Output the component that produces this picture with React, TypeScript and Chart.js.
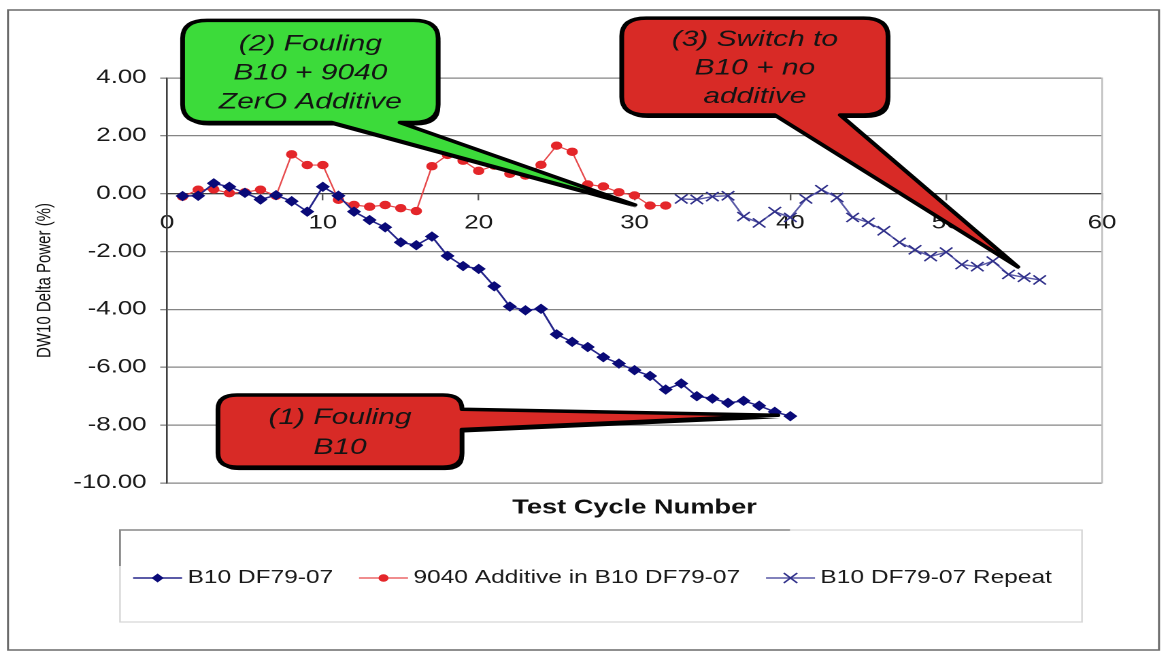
import React, { useEffect, useRef } from 'react';
import { Chart, registerables } from 'chart.js';

Chart.register(...registerables);

// ---------- page geometry (the reference is horizontally stretched) ----------
const FRAME_W = 1170;
const FRAME_H = 658;
const LOGICAL_W = 860;
const STRETCH = FRAME_W / LOGICAL_W;
const FONT = '"Liberation Sans", Arial, Helvetica, sans-serif';

// ---------- data ----------
const seriesNames = ['B10 DF79-07', '9040 Additive in B10 DF79-07', 'B10 DF79-07 Repeat'];

const cyclesB10 = [
  1, 2, 3, 4, 5, 6, 7, 8, 9, 10, 11, 12, 13, 14, 15, 16, 17, 18, 19, 20,
  21, 22, 23, 24, 25, 26, 27, 28, 29, 30, 31, 32, 33, 34, 35, 36, 37, 38, 39, 40,
];
const deltaB10 = [
  -0.08, -0.07, 0.36, 0.24, 0.03, -0.2, -0.05, -0.26, -0.62, 0.24,
  -0.07, -0.62, -0.91, -1.16, -1.68, -1.78, -1.48, -2.15, -2.5, -2.6,
  -3.2, -3.9, -4.03, -3.98, -4.86, -5.12, -5.3, -5.65, -5.87, -6.1,
  -6.3, -6.77, -6.56, -7.0, -7.08, -7.23, -7.16, -7.33, -7.54, -7.69,
];

const cyclesAdditive = [
  1, 2, 3, 4, 5, 6, 7, 8, 9, 10, 11, 12, 13, 14, 15, 16,
  17, 18, 19, 20, 21, 22, 23, 24, 25, 26, 27, 28, 29, 30, 31, 32,
];
const deltaAdditive = [
  -0.1, 0.14, 0.15, 0.02, 0.05, 0.14, -0.07, 1.36, 0.99, 0.99, -0.21, -0.39, -0.45, -0.39, -0.5, -0.6,
  0.95, 1.34, 1.14, 0.79, 0.97, 0.69, 0.63, 1.0, 1.66, 1.45, 0.32, 0.25, 0.05, -0.06, -0.41, -0.41,
];

const cyclesRepeat = [
  33, 34, 35, 36, 37, 38, 39, 40, 41, 42, 43, 44,
  45, 46, 47, 48, 49, 50, 51, 52, 53, 54, 55, 56,
];
const deltaRepeat = [
  -0.18, -0.2, -0.1, -0.07, -0.79, -1.01, -0.62, -0.82, -0.18, 0.14, -0.13, -0.82,
  -0.99, -1.28, -1.68, -1.94, -2.17, -2.02, -2.45, -2.52, -2.33, -2.79, -2.89, -2.98,
];

const X_MIN = 0;
const X_MAX = 60;
const X_STEP = 10;
const Y_MIN = -10;
const Y_MAX = 4;
const Y_STEP = 2;

const xTitle = 'Test Cycle Number';
const yTitle = 'DW10 Delta Power (%)';

// callout annotations (anchored in data units)
const callouts = [
  {
    lines: ['(1) Fouling', 'B10'],
    fill: '#d82a26',
    box: { x1: 3.27, x2: 18.93, y1: -6.96, y2: -9.45 },
    radius: 14,
    edge: 'right',
    base: [-7.45, -8.15],
    tip: { x: 39.2, y: -7.66 },
    gap: 30,
  },
  {
    lines: ['(2) Fouling', 'B10 + 9040', 'ZerO Additive'],
    fill: '#3cdb3a',
    box: { x1: 1.0, x2: 17.4, y1: 5.99, y2: 2.46 },
    radius: 18,
    edge: 'bottom',
    base: [10.57, 14.95],
    tip: { x: 30.03, y: -0.39 },
    gap: 29,
  },
  {
    lines: ['(3) Switch to', 'B10 + no', 'additive'],
    fill: '#d82a26',
    box: { x1: 29.18, x2: 46.27, y1: 6.07, y2: 2.72 },
    radius: 18,
    edge: 'bottom',
    base: [39.0, 43.2],
    tip: { x: 54.6, y: -2.53 },
    gap: 28.5,
  },
];

// ---------- styles ----------
const SERIES_STYLE = [
  { line: '#24248a', lineWidth: 1.5, marker: 'rectRot', markerColor: '#0a0a78', radius: 4.5 },
  { line: '#e6484a', lineWidth: 1.2, marker: 'circle', markerColor: '#e4262a', radius: 3.7 },
  { line: '#5858a6', lineWidth: 1.4, marker: 'crossRot', markerColor: '#30308a', radius: 6.5 },
];

function drawMarker(ctx: CanvasRenderingContext2D, kind: string, x: number, y: number, color: string, r: number) {
  ctx.save();
  ctx.fillStyle = color;
  ctx.strokeStyle = color;
  ctx.beginPath();
  if (kind === 'rectRot') {
    ctx.moveTo(x, y - r);
    ctx.lineTo(x + r, y);
    ctx.lineTo(x, y + r);
    ctx.lineTo(x - r, y);
    ctx.closePath();
    ctx.fill();
  } else if (kind === 'circle') {
    ctx.arc(x, y, r, 0, Math.PI * 2);
    ctx.fill();
  } else {
    const d = r * Math.SQRT1_2;
    ctx.lineWidth = 1.4;
    ctx.moveTo(x - d, y - d);
    ctx.lineTo(x + d, y + d);
    ctx.moveTo(x - d, y + d);
    ctx.lineTo(x + d, y - d);
    ctx.stroke();
  }
  ctx.restore();
}

function calloutPath(
  ctx: CanvasRenderingContext2D,
  L: number, T: number, R: number, B: number, r: number,
  edge: string, b1: number, b2: number, tx: number, ty: number,
) {
  ctx.beginPath();
  ctx.moveTo(L + r, T);
  ctx.lineTo(R - r, T);
  ctx.quadraticCurveTo(R, T, R, T + r);
  if (edge === 'right') {
    ctx.lineTo(R, Math.min(b1, b2));
    ctx.lineTo(tx, ty);
    ctx.lineTo(R, Math.max(b1, b2));
  }
  ctx.lineTo(R, B - r);
  ctx.quadraticCurveTo(R, B, R - r, B);
  if (edge === 'bottom') {
    ctx.lineTo(Math.max(b1, b2), B);
    ctx.lineTo(tx, ty);
    ctx.lineTo(Math.min(b1, b2), B);
  }
  ctx.lineTo(L + r, B);
  ctx.quadraticCurveTo(L, B, L, B - r);
  ctx.lineTo(L, T + r);
  ctx.quadraticCurveTo(L, T, L + r, T);
  ctx.closePath();
}

const decorPlugin = {
  id: 'decor',
  afterDraw(chart: any) {
    const ctx: CanvasRenderingContext2D = chart.ctx;
    const xs = chart.scales.x;
    const ys = chart.scales.y;
    const px = (v: number) => xs.getPixelForValue(v);
    const py = (v: number) => ys.getPixelForValue(v);

    // legend frame
    ctx.save();
    const lx1 = 120 / STRETCH, lx2 = 1082 / STRETCH, ly1 = 530, ly2 = 622;
    ctx.strokeStyle = '#d6d6d6';
    ctx.lineWidth = 1.2;
    ctx.strokeRect(lx1, ly1, lx2 - lx1, ly2 - ly1);
    ctx.strokeStyle = '#8a8a8a';
    ctx.lineWidth = 1.4;
    ctx.beginPath();
    ctx.moveTo(lx1, ly1 + 36);
    ctx.lineTo(lx1, ly1);
    ctx.lineTo(790 / STRETCH, ly1);
    ctx.stroke();
    ctx.restore();

    // legend icons (line + marker)
    const legend = chart.legend;
    if (legend && legend.legendHitBoxes) {
      legend.legendHitBoxes.forEach((hb: any, i: number) => {
        const st = SERIES_STYLE[i];
        if (!st) return;
        const cy = hb.top + hb.height / 2;
        const x0 = hb.left - 1;
        const x1 = hb.left + 35;
        ctx.save();
        ctx.strokeStyle = st.line;
        ctx.lineWidth = st.lineWidth;
        ctx.beginPath();
        ctx.moveTo(x0, cy);
        ctx.lineTo(x1, cy);
        ctx.stroke();
        ctx.restore();
        drawMarker(ctx, st.marker, (x0 + x1) / 2, cy, st.markerColor, st.marker === 'crossRot' ? 7 : st.radius);
      });
    }

    // outer frame
    ctx.save();
    ctx.strokeStyle = '#6a6a6a';
    ctx.lineWidth = 1.5;
    ctx.strokeRect(8 / STRETCH, 10, (1159 - 8) / STRETCH, 640);
    ctx.restore();

    // callouts
    callouts.forEach((c) => {
      const L = px(c.box.x1), R = px(c.box.x2), T = py(c.box.y1), B = py(c.box.y2);
      const tx = px(c.tip.x), ty = py(c.tip.y);
      const b1 = c.edge === 'bottom' ? px(c.base[0]) : py(c.base[0]);
      const b2 = c.edge === 'bottom' ? px(c.base[1]) : py(c.base[1]);
      ctx.save();
      ctx.lineJoin = 'round';
      ctx.translate(1.5, 3);
      calloutPath(ctx, L, T, R, B, c.radius, c.edge, b1, b2, tx, ty);
      ctx.fillStyle = '#000';
      ctx.fill();
      ctx.translate(-1.5, -3);
      calloutPath(ctx, L, T, R, B, c.radius, c.edge, b1, b2, tx, ty);
      ctx.fillStyle = c.fill;
      ctx.fill();
      ctx.lineWidth = 3.5;
      ctx.strokeStyle = '#000';
      ctx.stroke();
      ctx.fillStyle = '#141414';
      ctx.font = `italic 22px ${FONT}`;
      ctx.textAlign = 'center';
      ctx.textBaseline = 'middle';
      const cx = (L + R) / 2;
      const cy = (T + B) / 2 + 2;
      c.lines.forEach((t, i) => {
        ctx.fillText(t, cx, cy + (i - (c.lines.length - 1) / 2) * c.gap);
      });
      ctx.restore();
    });
  },
};

function buildPoints(xs: number[], ys: number[]) {
  return xs.map((x, i) => ({ x, y: ys[i] }));
}

export default function App() {
  const ref = useRef<HTMLCanvasElement>(null);

  useEffect(() => {
    const canvas = ref.current;
    if (!canvas) return;
    const existing = Chart.getChart(canvas);
    if (existing) existing.destroy();

    const makeDataset = (i: number, xs: number[], ys: number[]) => {
      const st = SERIES_STYLE[i];
      return {
        label: seriesNames[i],
        data: buildPoints(xs, ys),
        xAxisID: 'x',
        yAxisID: 'y',
        borderColor: st.line,
        borderWidth: st.lineWidth,
        backgroundColor: st.markerColor,
        pointStyle: st.marker,
        pointRadius: st.radius,
        pointBackgroundColor: st.markerColor,
        pointBorderColor: st.markerColor,
        pointBorderWidth: st.marker === 'crossRot' ? 1.4 : 1,
        tension: 0,
        fill: false,
      };
    };

    const chart = new Chart(canvas, {
      type: 'line',
      data: {
        datasets: [
          makeDataset(0, cyclesB10, deltaB10),
          makeDataset(1, cyclesAdditive, deltaAdditive),
          makeDataset(2, cyclesRepeat, deltaRepeat),
        ],
      },
      options: {
        responsive: false,
        devicePixelRatio: 2,
        animation: false,
        events: [],
        layout: { padding: { left: 20, right: 8, top: 78, bottom: 61 } },
        scales: {
          x: {
            type: 'linear',
            axis: 'x',
            position: { y: 0 },
            min: X_MIN,
            max: X_MAX,
            ticks: {
              stepSize: X_STEP,
              padding: 12,
              color: '#1a1a1a',
              font: { family: FONT, size: 19 },
              maxRotation: 0,
            },
            grid: { drawOnChartArea: false, drawTicks: true, tickLength: 6, color: '#555', lineWidth: 1.2 },
            border: { display: true, color: '#404040', width: 1.3 },
          },
          xt: {
            type: 'linear',
            axis: 'x',
            position: 'bottom',
            min: X_MIN,
            max: X_MAX,
            ticks: { display: false },
            grid: { display: false, drawTicks: false },
            border: { display: false },
            title: {
              display: true,
              text: xTitle,
              color: '#111',
              font: { family: FONT, size: 20, weight: 'bold', lineHeight: 1.2 },
              padding: { top: 13, bottom: 29 },
            },
            afterFit: (s: any) => { s.height = 66; },
          },
          y: {
            type: 'linear',
            axis: 'y',
            position: 'left',
            min: Y_MIN,
            max: Y_MAX,
            ticks: {
              stepSize: Y_STEP,
              padding: 10,
              color: '#1a1a1a',
              font: { family: FONT, size: 19 },
              callback: (v: any) => Number(v).toFixed(2),
            },
            grid: { color: '#858585', lineWidth: 1.3, drawTicks: true, tickLength: 5 },
            border: { display: true, color: '#404040', width: 1.3 },
            title: {
              display: true,
              text: yTitle,
              color: '#111',
              font: { family: FONT, size: 15, lineHeight: 1.2 },
              padding: { top: 4, bottom: 0 },
            },
            afterFit: (s: any) => { s.width = 167 / STRETCH - 20; },
          },
          yr: {
            type: 'linear',
            axis: 'y',
            position: 'right',
            min: Y_MIN,
            max: Y_MAX,
            ticks: { display: false },
            grid: { display: false, drawTicks: false },
            border: { display: true, color: '#bdbdbd', width: 1.2 },
            afterFit: (s: any) => { s.width = LOGICAL_W - 8 - 1102 / STRETCH; },
          },
        },
        plugins: {
          tooltip: { enabled: false },
          legend: {
            display: true,
            position: 'bottom',
            align: 'center',
            labels: {
              boxWidth: 30,
              boxHeight: 18,
              padding: 20,
              color: '#1a1a1a',
              font: { family: FONT, size: 18 },
              generateLabels: (ch: any) => {
                const items = Chart.defaults.plugins.legend.labels.generateLabels(ch);
                return items.map((it: any) => ({
                  ...it,
                  fillStyle: 'rgba(0,0,0,0)',
                  strokeStyle: 'rgba(0,0,0,0)',
                  lineWidth: 0,
                }));
              },
            },
          },
        },
      },
      plugins: [decorPlugin],
    } as any);

    return () => chart.destroy();
  }, []);

  return (
    <div
      style={{
        position: 'fixed',
        left: 0,
        top: 0,
        width: FRAME_W,
        height: FRAME_H,
        overflow: 'hidden',
        background: '#ffffff',
      }}
    >
      <div
        style={{
          width: LOGICAL_W,
          height: FRAME_H,
          transform: `scaleX(${STRETCH})`,
          transformOrigin: '0 0',
        }}
      >
        <canvas
          ref={ref}
          width={LOGICAL_W}
          height={FRAME_H}
          style={{ display: 'block', width: LOGICAL_W, height: FRAME_H }}
        />
      </div>
    </div>
  );
}
